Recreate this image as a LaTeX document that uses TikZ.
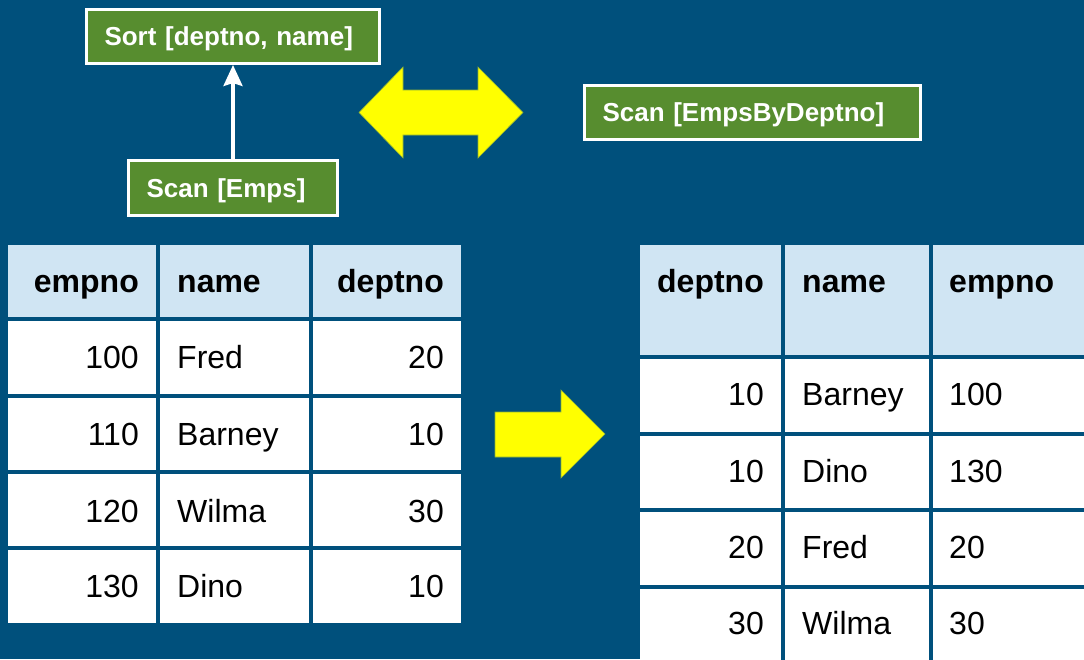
\documentclass[tikz,border=0pt]{standalone}
\usepackage{fontspec}
\setmainfont{Liberation Sans}
\usetikzlibrary{arrows.meta}
\definecolor{slide}{HTML}{00507C}
\definecolor{hdr}{HTML}{D0E5F3}
\definecolor{opgreen}{HTML}{578D2F}
\definecolor{hilite}{HTML}{FFFF00}

\begin{document}
\begin{tikzpicture}[x=1pt,y=-1pt,
  opbox/.style={draw=white, line width=3pt, fill=opgreen, text=white,
    font=\fontsize{26}{30}\selectfont\bfseries, inner xsep=18pt, inner ysep=0pt,
    align=left, text height=18.6pt, text depth=0pt},
  cell/.style={inner sep=0pt, font=\fontsize{32}{36}\selectfont},
  hcell/.style={inner sep=0pt, font=\fontsize{32}{36}\selectfont\bfseries},
  gridline/.style={draw=slide, line width=4pt},
  bigarrow/.style={fill=hilite, draw=hilite!55!slide, line width=0.6pt}]

% slide background
\fill[slide] (0,0) rectangle (1084,659);
\useasboundingbox (0,0) rectangle (1084,659);
\clip (0,0) rectangle (1084,659);

% plan operators
\node[opbox, text width=257pt, minimum height=54pt] (sort) at (233,36.5) {Sort [deptno, name]};
\node[opbox, text width=173pt, minimum height=55pt] (scan) at (233,188) {Scan [Emps]};
\node[opbox, text width=300pt, minimum height=54pt] (scanidx) at (752.5,112.5) {Scan [EmpsByDeptno]};
\draw[white, line width=3.5pt, -{Stealth[length=21pt,width=19pt,inset=3pt]}] (scan) -- (sort);

% equivalence arrow between the two plans
\path[bigarrow] (359,112.5) -- (403,67) -- (403,90) -- (478,90) -- (478,67) -- (523,112.5)
  -- (478,158) -- (478,135) -- (403,135) -- (403,158) -- cycle;

% arrow from input table to sorted table
\path[bigarrow] (495,412) -- (561,412) -- (561,390) -- (605,434) -- (561,478) -- (561,457)
  -- (495,457) -- cycle;

% ---- Emps table ----
\fill[hdr] (8,245) rectangle (461,319);
\fill[white] (8,319) rectangle (461,623);
\foreach \gx in {158,311} \draw[gridline] (\gx,245) -- (\gx,623);
\foreach \gy in {319,396,472,548} \draw[gridline] (8,\gy) -- (461,\gy);

\node[hcell, anchor=base east] (e-h1) at (139,292) {empno};
\node[hcell, anchor=base west] (e-h2) at (177,292) {name};
\node[hcell, anchor=base east] (e-h3) at (444,292) {deptno};

\node[cell, anchor=base east] (e-11) at (139,368) {100};
\node[cell, anchor=base west] (e-12) at (177,368) {Fred};
\node[cell, anchor=base east] (e-13) at (444,368) {20};
\node[cell, anchor=base east] (e-21) at (139,445) {110};
\node[cell, anchor=base west] (e-22) at (177,445) {Barney};
\node[cell, anchor=base east] (e-23) at (444,445) {10};
\node[cell, anchor=base east] (e-31) at (139,522) {120};
\node[cell, anchor=base west] (e-32) at (177,522) {Wilma};
\node[cell, anchor=base east] (e-33) at (444,522) {30};
\node[cell, anchor=base east] (e-41) at (139,597) {130};
\node[cell, anchor=base west] (e-42) at (177,597) {Dino};
\node[cell, anchor=base east] (e-43) at (444,597) {10};

% ---- EmpsByDeptno table ----
\fill[hdr] (640,245) rectangle (1090,357);
\fill[white] (640,357) rectangle (1090,665);
\foreach \gx in {783,931} \draw[gridline] (\gx,245) -- (\gx,665);
\foreach \gy in {357,434,510,587} \draw[gridline] (640,\gy) -- (1090,\gy);

\node[hcell, anchor=base east] (d-h1) at (764,292) {deptno};
\node[hcell, anchor=base west] (d-h2) at (802,292) {name};
\node[hcell, anchor=base west] (d-h3) at (949,292) {empno};

\node[cell, anchor=base east] (d-11) at (764,405) {10};
\node[cell, anchor=base west] (d-12) at (802,405) {Barney};
\node[cell, anchor=base west] (d-13) at (949,405) {100};
\node[cell, anchor=base east] (d-21) at (764,482) {10};
\node[cell, anchor=base west] (d-22) at (802,482) {Dino};
\node[cell, anchor=base west] (d-23) at (949,482) {130};
\node[cell, anchor=base east] (d-31) at (764,558) {20};
\node[cell, anchor=base west] (d-32) at (802,558) {Fred};
\node[cell, anchor=base west] (d-33) at (949,558) {20};
\node[cell, anchor=base east] (d-41) at (764,634) {30};
\node[cell, anchor=base west] (d-42) at (802,634) {Wilma};
\node[cell, anchor=base west] (d-43) at (949,634) {30};
\end{tikzpicture}
\end{document}
